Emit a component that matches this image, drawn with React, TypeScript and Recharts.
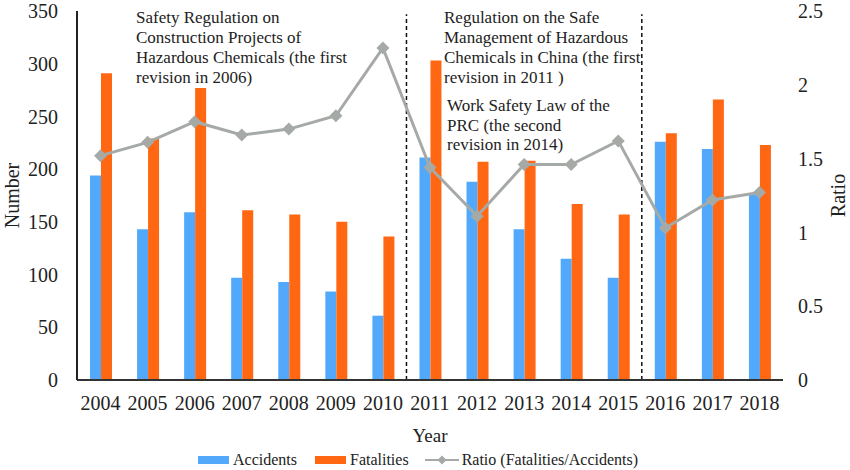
import React from 'react';
import {
  ComposedChart,
  Bar,
  Line,
  XAxis,
  YAxis,
  Legend,
  ReferenceLine,
  Customized,
} from 'recharts';

const years = ['2004', '2005', '2006', '2007', '2008', '2009', '2010', '2011', '2012', '2013', '2014', '2015', '2016', '2017', '2018'];
const accidents = [194, 143, 159, 97, 93, 84, 61, 211, 188, 143, 115, 97, 226, 219, 176];
const fatalities = [291, 229, 277, 161, 157, 150, 136, 303, 207, 208, 167, 157, 234, 266, 223];
const ratios = [1.52, 1.61, 1.75, 1.66, 1.7, 1.79, 2.25, 1.44, 1.11, 1.46, 1.46, 1.62, 1.03, 1.22, 1.27];
const leftTicks = [0, 50, 100, 150, 200, 250, 300, 350];
const rightTicks = [0, 0.5, 1, 1.5, 2, 2.5];
// dashed dividers sit at the start of these years
const dividers = ['2011', '2016'];

const data = years.map((year, i) => ({
  year,
  accidents: accidents[i],
  fatalities: fatalities[i],
  ratio: ratios[i],
}));

const FONT = "'Liberation Serif', 'Times New Roman', 'DejaVu Serif', serif";
const BLUE = '#52a9fb';
const ORANGE = '#ff6713';
const GREY = '#a5aaa7';
const TEXT = '#222';

const notes = [
  { x: 136, y: 23, step: 20, lines: ['Safety Regulation on', 'Construction Projects of', 'Hazardous Chemicals (the first', 'revision in 2006)'] },
  { x: 444, y: 23, step: 20, lines: ['Regulation on the Safe', 'Management of Hazardous', 'Chemicals in China (the first', 'revision in 2011 )'] },
  { x: 447, y: 111, step: 19.5, lines: ['Work Safety Law of the', 'PRC (the second', 'revision in 2014)'] },
];

const Annotations = () => (
  <g>
    {notes.map((n, i) => (
      <text key={i} x={n.x} y={n.y} fontSize={17} fill={TEXT} fontFamily={FONT}>
        {n.lines.map((l, j) => (
          <tspan key={j} x={n.x} y={n.y + j * n.step}>{l}</tspan>
        ))}
      </text>
    ))}
  </g>
);

const Diamond = (props: any) => {
  const { cx, cy } = props;
  if (cx == null || cy == null) return null;
  const s = 6.5;
  return (
    <polygon
      points={`${cx},${cy - s} ${cx + s},${cy} ${cx},${cy + s} ${cx - s},${cy}`}
      fill={GREY}
    />
  );
};

const renderLegend = () => (
  <div
    style={{
      display: 'flex',
      alignItems: 'center',
      paddingLeft: 198,
      height: 20,
      fontSize: 16,
      color: TEXT,
      fontFamily: FONT,
    }}
  >
    <svg width={31} height={8} style={{ marginRight: 4 }}>
      <rect width={31} height={8} fill={BLUE} />
    </svg>
    <span style={{ marginRight: 18 }}>Accidents</span>
    <svg width={31} height={8} style={{ marginRight: 4 }}>
      <rect width={31} height={8} fill={ORANGE} />
    </svg>
    <span style={{ marginRight: 16 }}>Fatalities</span>
    <svg width={34} height={12} style={{ marginRight: 3 }}>
      <line x1={0} y1={6} x2={34} y2={6} stroke={GREY} strokeWidth={2} />
      <polygon points="17,1.5 21.5,6 17,10.5 12.5,6" fill={GREY} />
    </svg>
    <span>Ratio (Fatalities/Accidents)</span>
  </div>
);

const tickStyle = { fill: TEXT, fontSize: 20, fontFamily: FONT };

export default function App() {
  return (
    <div style={{ position: 'absolute', left: 0, top: 0, fontFamily: FONT, background: '#fff' }}>
      <ComposedChart
        width={850}
        height={470}
        data={data}
        margin={{ top: 11, right: 0, left: 0, bottom: 28 }}
        barGap={0}
        style={{ fontFamily: FONT }}
      >
        <XAxis
          dataKey="year"
          height={62}
          interval={0}
          tickLine={false}
          tickSize={0}
          tickMargin={16}
          axisLine={{ stroke: '#333', strokeWidth: 2 }}
          tick={tickStyle}
          label={{ value: 'Year', position: 'insideBottom', offset: 0, fill: TEXT, fontSize: 19, fontFamily: FONT }}
        />
        <YAxis
          yAxisId="left"
          width={77}
          domain={[0, 350]}
          ticks={leftTicks}
          interval={0}
          tickLine={false}
          tickSize={0}
          tickMargin={19}
          axisLine={{ stroke: '#222', strokeWidth: 2 }}
          tick={tickStyle}
          label={{ value: 'Number', angle: -90, position: 'insideLeft', offset: 12, fill: TEXT, fontSize: 20, fontFamily: FONT, style: { textAnchor: 'middle' } }}
        />
        <YAxis
          yAxisId="right"
          orientation="right"
          width={67}
          domain={[0, 2.5]}
          ticks={rightTicks}
          interval={0}
          tickLine={false}
          tickSize={0}
          tickMargin={15}
          axisLine={false}
          tick={tickStyle}
          label={{ value: 'Ratio', angle: -90, position: 'insideRight', offset: 12, fill: TEXT, fontSize: 20, fontFamily: FONT, style: { textAnchor: 'middle' } }}
        />
        {dividers.map((d) => (
          <ReferenceLine
            key={d}
            yAxisId="left"
            segment={[{ x: d, y: 0 }, { x: d, y: 347 }]}
            position="start"
            stroke="#111"
            strokeWidth={1.5}
            strokeDasharray="4 3"
          />
        ))}
        <Bar yAxisId="left" dataKey="accidents" name="Accidents" fill={BLUE} barSize={11} isAnimationActive={false} />
        <Bar yAxisId="left" dataKey="fatalities" name="Fatalities" fill={ORANGE} barSize={11} isAnimationActive={false} />
        <Line
          yAxisId="right"
          dataKey="ratio"
          name="Ratio (Fatalities/Accidents)"
          stroke={GREY}
          strokeWidth={3}
          dot={<Diamond />}
          activeDot={false}
          isAnimationActive={false}
        />
        <Customized component={Annotations} />
        <Legend
          layout="horizontal"
          verticalAlign="middle"
          align="center"
          content={renderLegend}
          wrapperStyle={{ top: 450, left: 0, width: 850 }}
        />
      </ComposedChart>
    </div>
  );
}
